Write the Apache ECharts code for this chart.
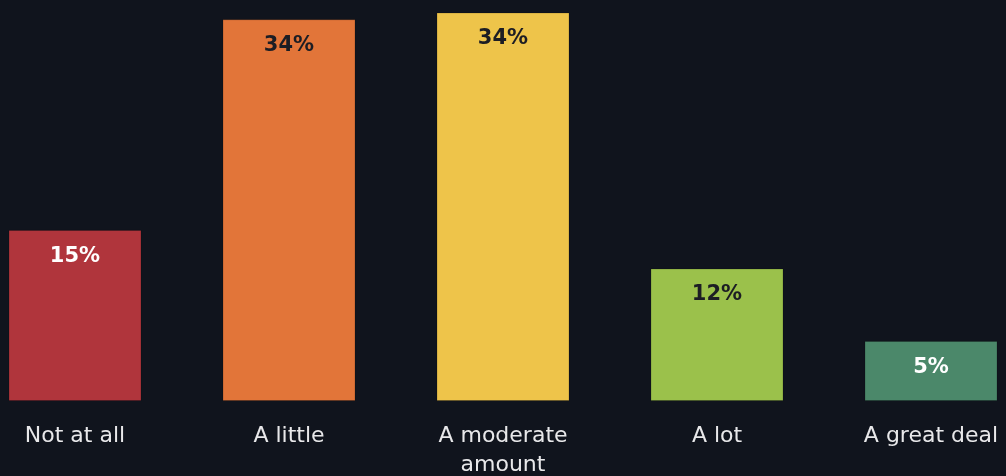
<!DOCTYPE html>
<html>
<head>
<meta charset="utf-8">
<script src="https://cdn.jsdelivr.net/npm/echarts@6/dist/echarts.min.js"></script>
<style>
  html, body { margin: 0; padding: 0; background: #10141d; }
  #chart { width: 1006px; height: 476px; }
</style>
</head>
<body>
<div id="chart"></div>
<script>
// Share of respondents per answer (percent)
const categories = ['Not at all', 'A little', 'A moderate\namount', 'A lot', 'A great deal'];
const values = [15.1, 33.7, 34.3, 11.7, 5.3];
const barColors = ['#b0353c', '#e27539', '#eec44a', '#9bc14b', '#4b886a'];
const labelColors = ['#ffffff', '#1c1d24', '#1c1d24', '#1c1d24', '#ffffff'];

const FONT = '"DejaVu Sans", "Noto Sans", sans-serif';

const chart = echarts.init(document.getElementById('chart'));
chart.setOption({
  backgroundColor: '#10141d',
  animation: false,
  grid: {
    left: -32, right: -32, top: 0, bottom: 75,
    containLabel: false,
    outerBoundsMode: 'none'
  },
  xAxis: {
    type: 'category',
    data: categories,
    axisLine: { show: false },
    axisTick: { show: false },
    axisLabel: {
      color: '#e8e8ea',
      fontFamily: FONT,
      fontSize: 22,
      lineHeight: 29,
      margin: 21,
      interval: 0
    }
  },
  yAxis: {
    type: 'value',
    min: 0,
    max: 35.4,
    show: false,
    splitLine: { show: false }
  },
  series: [{
    type: 'bar',
    barWidth: 133,
    data: values.map((v, i) => ({
      value: v,
      itemStyle: { color: barColors[i] },
      label: { color: labelColors[i] }
    })),
    itemStyle: { borderColor: 'rgba(0,0,0,0.18)', borderWidth: 1 },
    label: {
      show: true,
      position: 'insideTop',
      distance: 16,
      fontFamily: FONT,
      fontWeight: 'bold',
      fontSize: 21,
      formatter: p => Math.round(p.value) + '%'
    }
  }]
});
</script>
</body>
</html>
